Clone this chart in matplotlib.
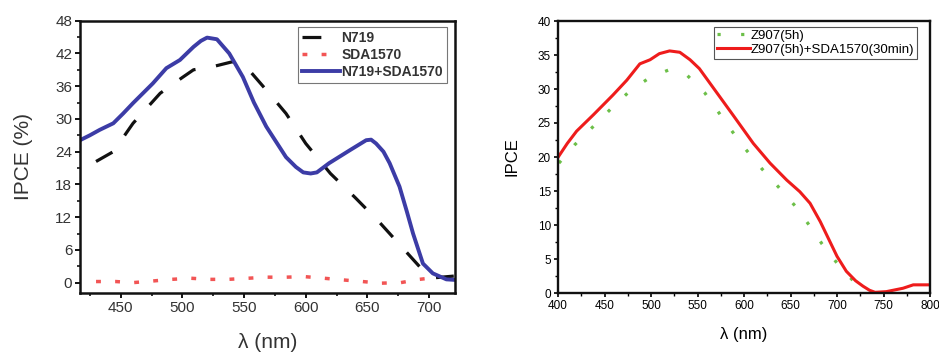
import matplotlib
matplotlib.use("Agg")
import matplotlib.pyplot as plt
from matplotlib.ticker import MultipleLocator

plt.rcParams['font.family'] = ['Liberation Sans', 'DejaVu Sans']

# ---- Left panel data ----
n719_x = [430, 444, 460, 482, 500, 509, 525, 541, 555, 568, 584, 600, 620, 640, 660, 680, 690, 698, 705, 720]
n719_y = [22.2, 24.0, 29.2, 34.7, 37.6, 39.0, 39.6, 40.5, 38.7, 35.3, 31.0, 25.5, 20.0, 15.6, 11.0, 6.0, 3.5, 1.5, 0.9, 1.2]

sda_x = [430, 446, 460, 476, 491, 507, 522, 537, 553, 568, 584, 599, 615, 630, 646, 661, 677, 692, 700]
sda_y = [0.2, 0.2, 0.0, 0.3, 0.6, 0.8, 0.6, 0.6, 0.8, 1.0, 1.0, 1.1, 0.8, 0.5, 0.2, -0.1, 0.0, 0.6, 0.8]

mix_x = [417, 425, 433, 444, 452, 460, 476, 487, 498, 509, 515, 520, 528, 538, 549, 558, 568, 584, 592, 598, 604, 609, 619, 636, 649, 653, 657, 663, 668, 676, 682, 687, 695, 703, 714, 721]
mix_y = [26.1, 27.0, 28.0, 29.2, 31.0, 32.9, 36.5, 39.3, 40.8, 43.2, 44.3, 44.9, 44.6, 42.0, 37.7, 33.0, 28.6, 23.0, 21.2, 20.2, 20.0, 20.2, 21.9, 24.3, 26.1, 26.2, 25.5, 24.0, 21.9, 17.6, 13.0, 9.0, 3.5, 1.7, 0.6, 0.5]

# ---- Right panel data ----
z907_x = [401, 418, 438, 457, 478, 499, 519, 539, 558, 572, 586, 602, 619, 637, 655, 670, 684, 700, 718, 730]
z907_y = [19.1, 21.8, 24.5, 27.1, 29.8, 31.7, 32.8, 32.0, 29.4, 26.7, 24.0, 21.1, 18.3, 15.6, 12.8, 10.0, 7.2, 4.4, 1.7, 0.6]

zs_x = [400, 410, 420, 438, 459, 474, 488, 499, 509, 520, 531, 542, 552, 570, 588, 610, 628, 646, 660, 671, 682, 700, 710, 720, 728, 735, 741, 753, 771, 782, 800]
zs_y = [19.95, 22.0, 23.8, 26.2, 29.1, 31.3, 33.7, 34.3, 35.2, 35.6, 35.4, 34.3, 33.0, 29.6, 26.2, 22.0, 19.1, 16.6, 14.9, 13.2, 10.5, 5.4, 3.2, 1.8, 1.0, 0.4, 0.1, 0.2, 0.7, 1.2, 1.2]

fig = plt.figure(figsize=(9.39, 3.52), dpi=100)
W, H = 939, 352

# ---------------- Left ----------------
ax1 = fig.add_axes([80 / W, 1 - 293 / H, 375 / W, 272.3 / H])
ax1.plot(n719_x, n719_y, color='#111111', lw=2.3, dashes=(5.9, 6.5), label='N719')
ax1.plot(sda_x, sda_y, color='#f25555', lw=2.5, dashes=(1.4, 4.1), label='SDA1570')
ax1.plot(mix_x, mix_y, color='#3c3ca6', lw=2.8, label='N719+SDA1570')
ax1.set_xlim(417, 721)
ax1.set_ylim(-1.9, 48)
ax1.xaxis.set_major_locator(MultipleLocator(50))
ax1.xaxis.set_minor_locator(MultipleLocator(25))
ax1.yaxis.set_major_locator(MultipleLocator(6))
ax1.yaxis.set_minor_locator(MultipleLocator(3))
for s in ax1.spines.values():
    s.set_linewidth(1.8)
    s.set_color('#111111')
ax1.tick_params(which='major', direction='out', length=3.5, width=1.3, labelsize=11,
                labelcolor='#333333', pad=2)
ax1.tick_params(which='minor', direction='out', length=2, width=1.1)
ax1.set_xlabel('λ (nm)', fontsize=15, color='#333333', labelpad=13)
ax1.set_ylabel('IPCE (%)', fontsize=15, color='#333333', labelpad=16)
leg1 = ax1.legend(loc='upper right', bbox_to_anchor=((447 - 80) / 375, 1 - (27 - 20.7) / 272),
                  borderaxespad=0, prop={'weight': 'bold', 'size': 10},
                  handlelength=2.7, handletextpad=0.1, labelspacing=0.2, borderpad=0.3,
                  fancybox=False, frameon=True, framealpha=1)
leg1.get_frame().set_edgecolor('#777777')
leg1.get_frame().set_linewidth(0.8)
for t in leg1.get_texts():
    t.set_color('#333333')

# ---------------- Right ----------------
ax2 = fig.add_axes([558 / W, 1 - 293 / H, 372 / W, 272 / H])
ax2.plot(z907_x, z907_y, color='#6cbf48', lw=2.3, dashes=(1.0, 6.4), label='Z907(5h)')
ax2.plot(zs_x, zs_y, color='#ee1c1c', lw=2.2, label='Z907(5h)+SDA1570(30min)')
ax2.set_xlim(400, 800)
ax2.set_ylim(0, 40)
ax2.xaxis.set_major_locator(MultipleLocator(50))
ax2.xaxis.set_minor_locator(MultipleLocator(25))
ax2.yaxis.set_major_locator(MultipleLocator(5))
ax2.yaxis.set_minor_locator(MultipleLocator(2.5))
for s in ax2.spines.values():
    s.set_linewidth(1.7)
    s.set_color('#111111')
ax2.tick_params(which='major', direction='out', length=3, width=1.2, labelsize=8.5, pad=2)
ax2.tick_params(which='minor', direction='out', length=2, width=1.0)
ax2.set_xlabel('λ (nm)', fontsize=12, labelpad=11)
ax2.set_ylabel('IPCE', fontsize=12, labelpad=13)
leg2 = ax2.legend(loc='upper right', bbox_to_anchor=((917 - 558) / 372, 1 - (27 - 21) / 272),
                  borderaxespad=0, fontsize=9.5,
                  handlelength=2.5, handletextpad=0.1, labelspacing=0.15, borderpad=0.2,
                  fancybox=False, frameon=True, framealpha=1)
leg2.get_frame().set_edgecolor('#555555')
leg2.get_frame().set_linewidth(0.8)

fig.savefig('out.png', dpi=100)
